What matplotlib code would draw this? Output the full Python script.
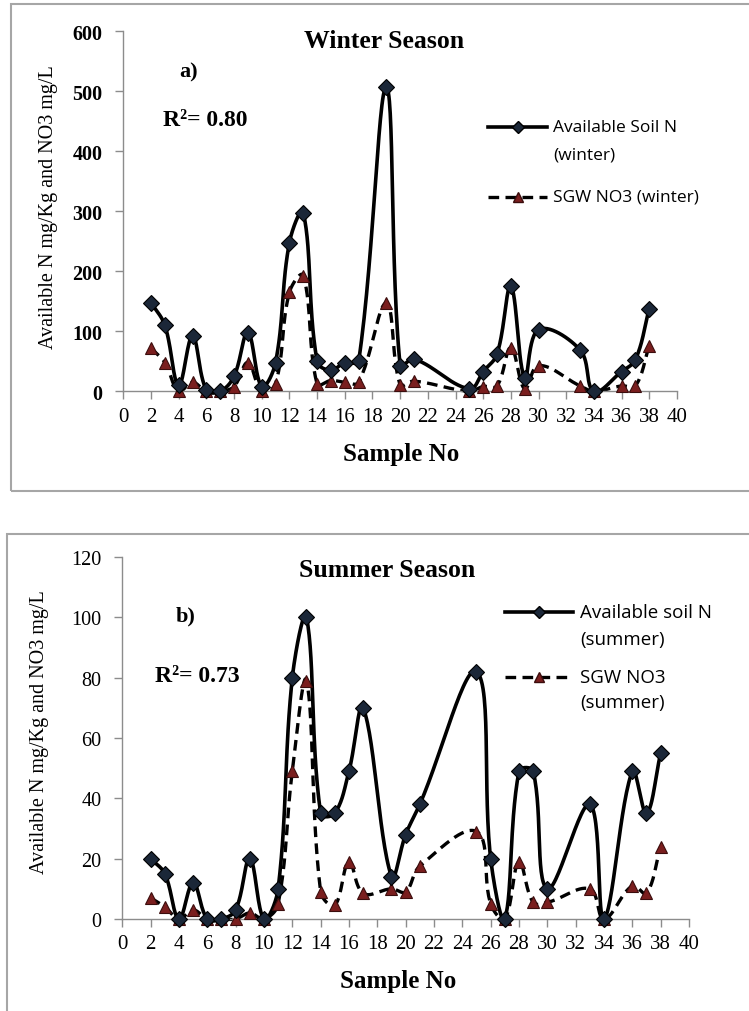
import numpy as np
import matplotlib
matplotlib.use("Agg")
import matplotlib.pyplot as plt
from matplotlib.lines import Line2D
from matplotlib.patches import Rectangle

# ---------------- data ----------------
samples = [2, 3, 4, 5, 6, 7, 8, 9, 10, 11, 12, 13, 14, 15, 16, 17, 19, 20, 21,
           25, 26, 27, 28, 29, 30, 33, 34, 36, 37, 38]
winter_soil_n = [148, 110, 10, 92, 2, 0, 25, 98, 8, 48, 248, 298, 50, 35, 48, 50,
                 507, 43, 54, 4, 33, 62, 175, 22, 103, 69, 0, 33, 53, 138]
winter_sgw_no3 = [72, 48, 0, 15, 0, 0, 8, 48, 0, 12, 165, 193, 12, 18, 15, 15,
                  147, 11, 17, 0, 8, 9, 73, 4, 43, 9, 0, 9, 9, 76]
summer_soil_n = [20, 15, 0, 12, 0, 0, 3, 20, 0, 10, 80, 100, 35, 35, 49, 70,
                 14, 28, 38, 82, 20, 0, 49, 49, 10, 38, 0, 49, 35, 55]
summer_sgw_no3 = [7, 4, 0, 3, 0, 0, 0, 2, 0, 5, 49, 79, 9, 4.5, 19, 8.5,
                  10, 9, 17.5, 29, 5, 0, 19, 5.5, 5.5, 10, 0, 11, 8.5, 24]
x_ticks = list(range(0, 41, 2))
winter_y_ticks = [0, 100, 200, 300, 400, 500, 600]
summer_y_ticks = [0, 20, 40, 60, 80, 100, 120]

W, H = 749, 1012
fig = plt.figure(figsize=(W / 100, H / 100), dpi=100)
fig.patch.set_facecolor("white")


def fx(px):
    return px / W


def fy(py):
    return 1 - py / H


SERIF = "Liberation Serif"
SANS = "Open Sans"
GRAY = "#8c8c8c"


def smooth(ax, x, y, n=30, f=0.38):
    pts = ax.transData.transform(np.column_stack([x, y]))
    P = np.vstack([pts[0], pts, pts[-1]])
    out = []
    t = np.linspace(0, 1, n, endpoint=False)[:, None]
    for i in range(1, len(P) - 2):
        p0, p1, p2, p3 = P[i - 1], P[i], P[i + 1], P[i + 2]
        d01 = np.hypot(*(p1 - p0))
        d12 = np.hypot(*(p2 - p1))
        d23 = np.hypot(*(p3 - p2))
        t1 = (p2 - p0) * (d12 / (d01 + d12)) if d01 + d12 > 0 else np.zeros(2)
        t2 = (p3 - p1) * (d12 / (d12 + d23)) if d12 + d23 > 0 else np.zeros(2)
        c1 = p1 + f * t1
        c2 = p2 - f * t2
        seg = ((1 - t) ** 3) * p1 + 3 * ((1 - t) ** 2) * t * c1 + 3 * (1 - t) * t ** 2 * c2 + t ** 3 * p2
        out.append(seg)
    out.append(P[-2][None])
    disp = np.vstack(out)
    return ax.transData.inverted().transform(disp)


def panel(rect, ymax, yticks, soil, sgw, tick_weight):
    ax = fig.add_axes(rect)
    ax.set_xlim(0, 40)
    ax.set_ylim(0, ymax)
    for s in ["top", "right"]:
        ax.spines[s].set_visible(False)
    for s in ["left", "bottom"]:
        ax.spines[s].set_color(GRAY)
        ax.spines[s].set_linewidth(1.0)
    ax.set_xticks(x_ticks)
    ax.set_yticks(yticks)
    ax.tick_params(axis="both", direction="out", length=6, width=1, color=GRAY)
    ax.tick_params(axis="y", pad=9)
    ax.tick_params(axis="x", pad=5)
    for lab in ax.get_yticklabels():
        lab.set_fontfamily(SERIF)
        lab.set_fontsize(14.5)
        lab.set_fontweight(tick_weight)
    for lab in ax.get_xticklabels():
        lab.set_fontfamily(SERIF)
        lab.set_fontsize(15)
    ax.set_facecolor("none")

    sx = smooth(ax, samples, soil)
    ax.plot(sx[:, 0], sx[:, 1], "-", color="black", lw=2.6, clip_on=False, zorder=3,
            solid_joinstyle="round")
    gx = smooth(ax, samples, sgw)
    ax.plot(gx[:, 0], gx[:, 1], "--", color="black", lw=2.4, dashes=(3.2, 1.9),
            clip_on=False, zorder=2)
    ax.plot(samples, sgw, "^", ms=8.5, mfc="#7a1e1e", mec="#3b0d0d", mew=0.8,
            clip_on=False, zorder=4, ls="none")
    ax.plot(samples, soil, "D", ms=8.5, mfc="#1b2738", mec="black", mew=0.8,
            clip_on=False, zorder=5, ls="none")
    return ax


# frames
fig.add_artist(Rectangle((fx(11), fy(492)), fx(760) - fx(11), fy(5) - fy(492),
                         transform=fig.transFigure, fill=False, ec="#a6a6a6", lw=1.5))
fig.add_artist(Rectangle((fx(7), fy(1030)), fx(760) - fx(7), fy(535) - fy(1030),
                         transform=fig.transFigure, fill=False, ec="#a6a6a6", lw=1.5))

# top panel
ax1 = panel([fx(123.3), fy(392.3), fx(677) - fx(123.3), fy(32.3) - fy(392.3)],
            600, winter_y_ticks, winter_soil_n, winter_sgw_no3, "bold")
# bottom panel
ax2 = panel([fx(122.3), fy(920), fx(689) - fx(122.3), fy(558) - fy(920)],
            120, summer_y_ticks, summer_soil_n, summer_sgw_no3, "normal")

ylab = "Available N mg/Kg and NO3 mg/L"
fig.text(fx(48), fy(207), ylab, rotation=90, ha="center", va="center",
         family=SERIF, fontsize=14.5)
fig.text(fx(40), fy(732), ylab, rotation=90, ha="center", va="center",
         family=SERIF, fontsize=14.5)

fig.text(fx(401), fy(455), "Sample No", ha="center", va="center",
         family=SERIF, fontsize=18, fontweight="bold")
fig.text(fx(398), fy(982), "Sample No", ha="center", va="center",
         family=SERIF, fontsize=18, fontweight="bold")

fig.text(fx(384), fy(42), "Winter Season", ha="center", va="center",
         family=SERIF, fontsize=18.5, fontweight="bold")
fig.text(fx(387), fy(571), "Summer Season", ha="center", va="center",
         family=SERIF, fontsize=18.5, fontweight="bold")

fig.text(fx(189), fy(72), "a)", ha="center", va="center",
         family=SERIF, fontsize=16, fontweight="bold")
fig.text(fx(186), fy(616), "b)", ha="center", va="center",
         family=SERIF, fontsize=16, fontweight="bold")

fig.text(fx(205), fy(120), "R\u00b2= 0.80", ha="center", va="center",
         family=SERIF, fontsize=17, fontweight="bold")
fig.text(fx(197), fy(676), "R\u00b2= 0.73", ha="center", va="center",
         family=SERIF, fontsize=17, fontweight="bold")


# legends (drawn as keys in figure coordinates)
def key(x0, x1, y, dashed):
    xs = [fx(x0), fx((x0 + x1) / 2), fx(x1)]
    ys = [fy(y)] * 3
    if dashed:
        ln = Line2D(xs, ys, transform=fig.transFigure, color="black", lw=2.4,
                    ls="--", dashes=(3.2, 1.9), marker="^", markevery=[1], ms=7,
                    mfc="#7a1e1e", mec="#3b0d0d")
    else:
        ln = Line2D(xs, ys, transform=fig.transFigure, color="black", lw=2.6,
                    marker="D", markevery=[1], ms=6, mfc="#1b2738", mec="black")
    fig.add_artist(ln)


key(488, 547, 128, False)
fig.text(fx(553), fy(128), "Available Soil N", ha="left", va="center", family=SANS, fontsize=12.5)
fig.text(fx(553), fy(155), "(winter)", ha="left", va="center", family=SANS, fontsize=12.5)
key(488, 547, 198, True)
fig.text(fx(553), fy(198), "SGW NO3 (winter)", ha="left", va="center", family=SANS, fontsize=12.5)

key(505, 573, 613, False)
fig.text(fx(580), fy(613), "Available soil N", ha="left", va="center", family=SANS, fontsize=13.5)
fig.text(fx(580), fy(640), "(summer)", ha="left", va="center", family=SANS, fontsize=13.5)
key(505, 573, 678, True)
fig.text(fx(580), fy(678), "SGW NO3", ha="left", va="center", family=SANS, fontsize=13.5)
fig.text(fx(580), fy(703), "(summer)", ha="left", va="center", family=SANS, fontsize=13.5)

fig.savefig("out.png", dpi=100, facecolor="white")
